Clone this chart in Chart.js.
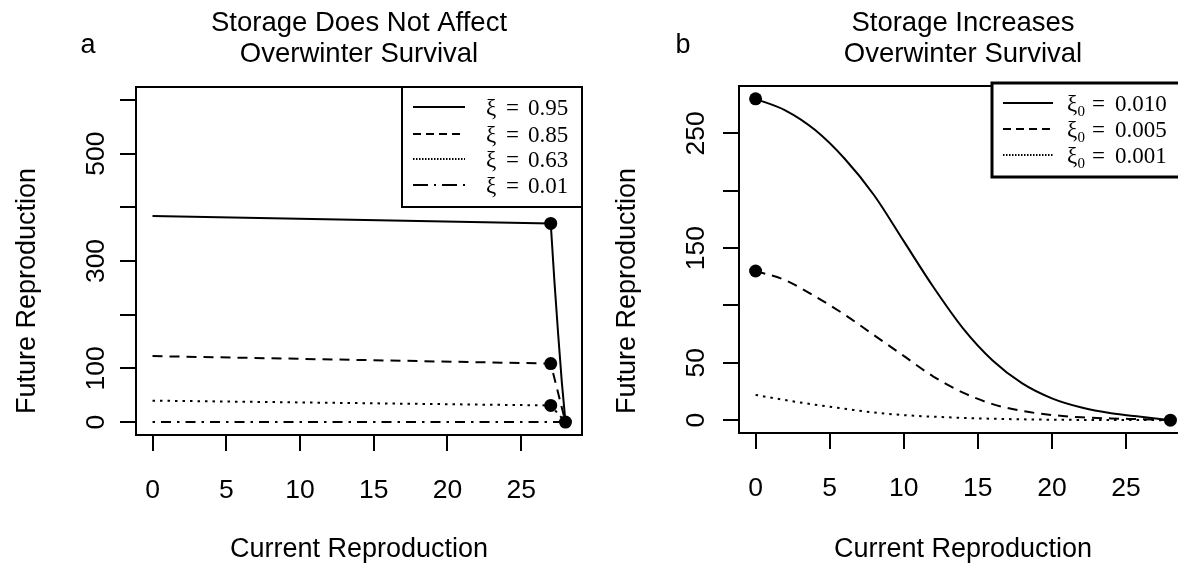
<!DOCTYPE html>
<html><head><meta charset="utf-8">
<script src="https://cdn.jsdelivr.net/npm/chart.js@4.4.0/dist/chart.umd.min.js"></script>
<style>
html,body{margin:0;padding:0;background:#fff;overflow:hidden;width:1178px;height:564px;}
#wrap{position:relative;width:1178px;height:564px;overflow:hidden;background:#fff;}
canvas{position:absolute;top:0;}
#ca{left:0;}
#cb{left:590px;}
</style></head><body>
<div id="wrap"><canvas id="ca" width="590" height="564"></canvas><canvas id="cb" width="610" height="564"></canvas></div>
<script>
// ---------- data ----------
const xTicks = [0, 5, 10, 15, 20, 25];

const yTicksA = [0, 100, 200, 300, 400, 500, 600];
const yLabelsA = ['0', '100', '', '300', '', '500', ''];
const yTicksB = [0, 50, 100, 150, 200, 250];
const yLabelsB = ['0', '50', '', '150', '', '250'];

// panel a
const aSolidX = [0, 27, 27.25, 27.5, 27.75, 28];
const aSolidY = [384, 370, 262, 165, 75, 0];
const aDashX = [0, 27, 28];
const aDashY = [123, 109, 0];
const aDotX = [0, 27, 28];
const aDotY = [40, 31, 0];
const aDashDotX = [0, 28];
const aDashDotY = [0, 0];
const aPointX = [27, 27, 27, 28];
const aPointY = [370, 109, 31, 0];
const aLegend = ['0.95', '0.85', '0.63', '0.01'];

// panel b
const bX = [0, 2, 4, 6, 8, 10, 12, 14, 16, 18, 20, 22, 24, 26, 28];
const bSolid = [280, 270, 253, 228, 196, 156, 116, 80, 52, 32, 19, 11, 6, 3, 0];
const bDash = [130, 122, 108, 92, 74, 56, 38, 24, 14, 8, 4.5, 2.5, 1.5, 0.8, 0];
const bDot = [22, 17.5, 13.5, 10, 6.6, 4.4, 3, 2, 1.2, 0.7, 0.4, 0.2, 0.1, 0.05, 0];
const bPointX = [0, 0, 28];
const bPointY = [280, 130, 0];
const bLegend = ['0.010', '0.005', '0.001'];

// ---------- helpers ----------
const zip = (xs, ys) => xs.map((x, i) => ({x: x, y: ys[i]}));
const SOLID = [], DASH = [10, 7], DOT = [2.5, 5], DASHDOT = [2.5, 6, 10, 6];
const LEG_DASH = [8, 5], LEG_DOT = [1.5, 1.5], LEG_DASHDOT = [15, 6, 2, 6];

function lineDS(data, dash, smooth) {
  return {data: data, showLine: true, borderColor: '#000', borderWidth: 2, borderDash: dash,
    pointRadius: 0, fill: false, cubicInterpolationMode: smooth ? 'monotone' : 'default', tension: 0};
}
function pointDS(data) {
  return {data: data, showLine: false, pointRadius: 6.5, pointBackgroundColor: '#000',
    pointBorderColor: '#000', pointBorderWidth: 0};
}

Chart.defaults.font.family = '"Liberation Sans", Arial, sans-serif';
Chart.defaults.color = '#000';

const SANS = '"Liberation Sans", Arial, sans-serif';
const SERIF = '"Liberation Serif", "Times New Roman", serif';

const annot = {
  id: 'annot',
  afterDraw(chart, args, o) {
    const ctx = chart.ctx, ca = chart.chartArea;
    ctx.save();
    ctx.strokeStyle = '#000'; ctx.lineWidth = 2;
    ctx.strokeRect(ca.left, ca.top, ca.right - ca.left, ca.bottom - ca.top);
    ctx.fillStyle = '#000';
    ctx.textAlign = 'center'; ctx.textBaseline = 'alphabetic';
    const cx = (ca.left + ca.right) / 2;
    ctx.font = '27.5px ' + SANS;
    o.title.forEach((t, i) => ctx.fillText(t, cx, o.titleBase[i]));
    ctx.font = '27px ' + SANS;
    ctx.fillText(o.letter, o.letterX, o.letterBase);
    ctx.fillText(o.xTitle, cx, o.xTitleBase);
    ctx.save();
    ctx.translate(o.yTitleX, o.yTitleY); ctx.rotate(-Math.PI / 2);
    ctx.textBaseline = 'middle'; ctx.fillText(o.yTitle, 0, 0);
    ctx.restore();
    // legend
    const L = o.legend;
    ctx.fillStyle = '#fff'; ctx.fillRect(L.x, L.y, L.w, L.h);
    ctx.lineWidth = L.bw; ctx.strokeStyle = '#000'; ctx.strokeRect(L.x, L.y, L.w, L.h);
    L.items.forEach((it, i) => {
      const y = L.rowY[i];
      ctx.setLineDash(it.dash); ctx.lineWidth = 1.8;
      ctx.beginPath(); ctx.moveTo(L.lx0, y); ctx.lineTo(L.lx1, y); ctx.stroke();
      ctx.setLineDash([]);
      ctx.fillStyle = '#000'; ctx.textAlign = 'left'; ctx.textBaseline = 'alphabetic';
      ctx.font = '23px ' + SERIF;
      ctx.fillText('ξ', L.tx, y + 7.5);
      if (L.sub) { ctx.font = '15px ' + SERIF; ctx.fillText('0', L.tx + 10.5, y + 12.5); ctx.font = '23px ' + SERIF; }
      ctx.fillText('=', L.tx + L.eqOff, y + 7.5);
      ctx.fillText(it.label, L.tx + L.numOff, y + 7.5);
    });
    ctx.restore();
  }
};

function makeChart(id, c) {
  return new Chart(document.getElementById(id), {
    type: 'scatter',
    data: {datasets: c.datasets},
    options: {
      responsive: false, animation: false, devicePixelRatio: 1,
      layout: {padding: {top: c.top, right: c.right, left: 0, bottom: 0}},
      plugins: {legend: {display: false}, tooltip: {enabled: false}, title: {display: false}, annot: c.annot},
      scales: {
        x: {
          type: 'linear', min: -1.12, max: 29.12,
          afterBuildTicks: s => { s.ticks = xTicks.map(v => ({value: v})); },
          afterFit: s => { s.height = c.xh; },
          grid: {drawOnChartArea: false, drawTicks: true, tickLength: 16, color: '#000', lineWidth: 2},
          border: {display: false},
          ticks: {color: '#000', font: {size: 26.5}, padding: 24, maxRotation: 0, minRotation: 0, autoSkip: false}
        },
        y: {
          type: 'linear', min: c.ymin, max: c.ymax,
          afterBuildTicks: s => { s.ticks = c.yTicks.map(v => ({value: v})); },
          afterFit: s => { s.width = c.yw; },
          grid: {drawOnChartArea: false, drawTicks: true, tickLength: 16, color: '#000', lineWidth: 2},
          border: {display: false},
          ticks: {color: '#000', font: {size: 26.5}, padding: c.ypad, minRotation: 90, maxRotation: 90,
            crossAlign: 'center', autoSkip: false,
            callback: v => c.yLabels[c.yTicks.indexOf(v)]}
        }
      }
    },
    plugins: [annot]
  });
}

makeChart('ca', {
  top: 87, right: 8, xh: 129, yw: 136, ypad: 1, ymin: -24, ymax: 624,
  yTicks: yTicksA, yLabels: yLabelsA,
  datasets: [
    lineDS(zip(aSolidX, aSolidY), SOLID, false),
    lineDS(zip(aDashX, aDashY), DASH, false),
    lineDS(zip(aDotX, aDotY), DOT, false),
    lineDS(zip(aDashDotX, aDashDotY), DASHDOT, false),
    pointDS(zip(aPointX, aPointY))
  ],
  annot: {
    title: ['Storage Does Not Affect', 'Overwinter Survival'], titleBase: [31, 61.5],
    letter: 'a', letterX: 88, letterBase: 53,
    xTitle: 'Current Reproduction', xTitleBase: 557,
    yTitle: 'Future Reproduction', yTitleX: 28, yTitleY: 291,
    legend: {x: 402, y: 87, w: 180, h: 120, bw: 2, rowY: [107, 134, 159, 185],
      lx0: 413, lx1: 465, tx: 486, eqOff: 20, numOff: 42, sub: false,
      items: aLegend.map((l, i) => ({label: l, dash: [SOLID, LEG_DASH, LEG_DOT, LEG_DASHDOT][i]}))}
  }
});

makeChart('cb', {
  top: 86, right: 13, xh: 131, yw: 149, ypad: 4, ymin: -11.2, ymax: 291.2,
  yTicks: yTicksB, yLabels: yLabelsB,
  datasets: [
    lineDS(zip(bX, bSolid), SOLID, true),
    lineDS(zip(bX, bDash), DASH, true),
    lineDS(zip(bX, bDot), DOT, true),
    pointDS(zip(bPointX, bPointY))
  ],
  annot: {
    title: ['Storage Increases', 'Overwinter Survival'], titleBase: [31, 61.5],
    letter: 'b', letterX: 93, letterBase: 53,
    xTitle: 'Current Reproduction', xTitleBase: 557,
    yTitle: 'Future Reproduction', yTitleX: 38, yTitleY: 291,
    legend: {x: 402, y: 83, w: 230, h: 94, bw: 3, rowY: [103, 129, 155],
      lx0: 413, lx1: 463, tx: 477, eqOff: 25, numOff: 48, sub: true,
      items: bLegend.map((l, i) => ({label: l, dash: [SOLID, LEG_DASH, LEG_DOT][i]}))}
  }
});
</script>
</body></html>
